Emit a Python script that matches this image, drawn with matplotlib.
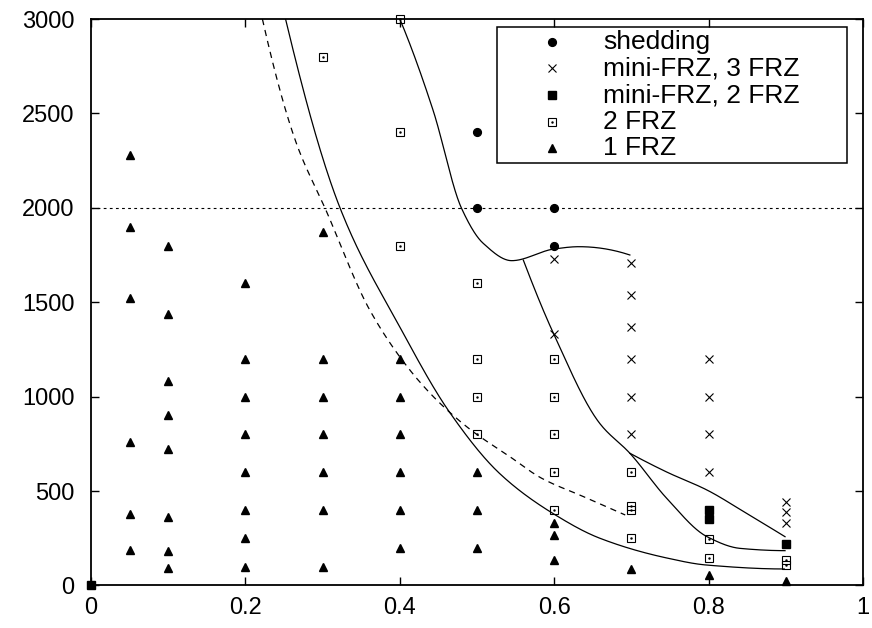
import matplotlib
matplotlib.use("Agg")
import matplotlib.pyplot as plt
from matplotlib.patches import Rectangle
import numpy as np

plt.rcParams['font.family'] = ['Liberation Sans', 'DejaVu Sans']

# ---------------- data ----------------
shed_x = [0.5, 0.5, 0.6, 0.6]
shed_y = [2400, 2000, 2000, 1800]

mini3_x = [0.6, 0.6, 0.7, 0.7, 0.7, 0.7, 0.7, 0.7, 0.8, 0.8, 0.8, 0.8, 0.9, 0.9, 0.9]
mini3_y = [1730, 1330, 1710, 1540, 1370, 1200, 1000, 800, 1200, 1000, 800, 600, 440, 390, 330]

mini2_x = [0.0, 0.8, 0.8, 0.9]
mini2_y = [0, 400, 350, 220]

frz2_x = [0.3, 0.4, 0.4, 0.4, 0.5, 0.5, 0.5, 0.5, 0.6, 0.6, 0.6, 0.6, 0.6,
          0.7, 0.7, 0.7, 0.7, 0.8, 0.8, 0.9, 0.9]
frz2_y = [2800, 3000, 2400, 1800, 1600, 1200, 1000, 800, 1200, 1000, 800, 600, 400,
          600, 420, 400, 250, 245, 145, 135, 110]

frz1_x = ([0.05] * 6 + [0.1] * 8 + [0.2] * 8 + [0.3] * 7 + [0.4] * 6 + [0.5] * 3
          + [0.6] * 3 + [0.7, 0.8, 0.9])
frz1_y = ([2280, 1900, 1520, 760, 380, 190]
          + [1800, 1440, 1080, 900, 720, 360, 180, 90]
          + [1600, 1200, 1000, 800, 600, 400, 250, 100]
          + [1870, 1200, 1000, 800, 600, 400, 100]
          + [1200, 1000, 800, 600, 400, 200]
          + [600, 400, 200]
          + [333, 267, 133]
          + [85, 55, 23])

# boundary curves
curveA_x = [0.252, 0.3225, 0.40, 0.465, 0.53, 0.598, 0.659, 0.746, 0.797, 0.898]
curveA_y = [3000, 2000, 1369, 914, 590, 382, 250, 145, 108, 87]

curveB_x = [0.400, 0.443, 0.480, 0.508, 0.545, 0.60, 0.632, 0.698]
curveB_y = [3000, 2518, 1997, 1812, 1720, 1782, 1794, 1750]

curveC_x = [0.560, 0.599, 0.659, 0.698, 0.746, 0.798, 0.841, 0.899]
curveC_y = [1723, 1335, 858, 700, 460, 258, 196, 184]

curveD_x = [0.698, 0.746, 0.798, 0.849, 0.899]
curveD_y = [700, 600, 505, 382, 258]

curveE_x = [0.222, 0.266, 0.303, 0.361, 0.413, 0.452, 0.495, 0.538,
            0.584, 0.638, 0.692]
curveE_y = [3000, 2342, 2000, 1459, 1141, 965, 814, 695,
            567, 470, 373]

ref_level = 2000

xticks = [0, 0.2, 0.4, 0.6, 0.8, 1]
xticklabels = ['0', '0.2', '0.4', '0.6', '0.8', '1']
yticks = [0, 500, 1000, 1500, 2000, 2500, 3000]
yticklabels = ['0', '500', '1000', '1500', '2000', '2500', '3000']

legend_labels = ['shedding', 'mini-FRZ, 3 FRZ', 'mini-FRZ, 2 FRZ', '2 FRZ', '1 FRZ']


def smooth_through(xs, ys, n=400):
    """Shape-preserving (PCHIP) smooth line through the given knots."""
    x = np.asarray(xs, float)
    y = np.asarray(ys, float)
    h = np.diff(x)
    d = np.diff(y) / h
    m = np.zeros_like(y)
    for k in range(1, len(x) - 1):
        if d[k - 1] * d[k] > 0:
            w1 = 2 * h[k] + h[k - 1]
            w2 = h[k] + 2 * h[k - 1]
            m[k] = (w1 + w2) / (w1 / d[k - 1] + w2 / d[k])
    # end slopes (three-point, shape-limited)
    def end(h0, h1, d0, d1):
        s = ((2 * h0 + h1) * d0 - h0 * d1) / (h0 + h1)
        if np.sign(s) != np.sign(d0):
            s = 0.0
        elif np.sign(d0) != np.sign(d1) and abs(s) > abs(3 * d0):
            s = 3 * d0
        return s
    if len(x) > 2:
        m[0] = end(h[0], h[1], d[0], d[1])
        m[-1] = end(h[-1], h[-2], d[-1], d[-2])
    else:
        m[:] = d[0]
    xx = np.linspace(x[0], x[-1], n)
    k = np.clip(np.searchsorted(x, xx) - 1, 0, len(x) - 2)
    t = (xx - x[k]) / h[k]
    h00 = 2 * t ** 3 - 3 * t ** 2 + 1
    h10 = t ** 3 - 2 * t ** 2 + t
    h01 = -2 * t ** 3 + 3 * t ** 2
    h11 = t ** 3 - t ** 2
    yy = h00 * y[k] + h10 * h[k] * m[k] + h01 * y[k + 1] + h11 * h[k] * m[k + 1]
    return xx, yy


# ---------------- figure ----------------
W, H = 872, 628
fig = plt.figure(figsize=(W / 100, H / 100), dpi=100)
L, R, T, B = 91, 863, 19, 585.4
ax = fig.add_axes([L / W, 1 - B / H, (R - L) / W, (B - T) / H])
ax.set_xlim(0, 1)
ax.set_ylim(0, 3000)

FS_tick = 17
FS_key = 19

ax.axhline(ref_level, color='black', lw=0.8, ls=(0, (2.5, 3)))

lw_c = 0.9
for cx, cy in [(curveA_x, curveA_y), (curveB_x, curveB_y),
               (curveC_x, curveC_y), (curveD_x, curveD_y)]:
    ax.plot(*smooth_through(cx, cy), color='black', lw=lw_c)
ax.plot(*smooth_through(curveE_x, curveE_y), color='black', lw=lw_c, ls=(0, (5, 4)))

ms = 5.6
sty_shed = dict(marker='o', ms=ms, mfc='black', mec='black', ls='none')
sty_m3 = dict(marker='x', ms=ms, mec='black', mew=0.8, ls='none')
sty_m2 = dict(marker='s', ms=ms, mfc='black', mec='black', ls='none')
sty_f2 = dict(marker='s', ms=ms, mfc='none', mec='black', mew=0.8, ls='none')
sty_f2d = dict(marker='.', ms=1.5, mfc='black', mec='black', ls='none')
sty_f1 = dict(marker='^', ms=ms, mfc='black', mec='black', ls='none')

ax.plot(frz1_x, frz1_y, clip_on=False, zorder=3, **sty_f1)
ax.plot(frz2_x, frz2_y, clip_on=False, zorder=3, **sty_f2)
ax.plot(frz2_x, frz2_y, clip_on=False, zorder=3, **sty_f2d)
ax.plot(mini2_x, mini2_y, clip_on=False, zorder=4, **sty_m2)
ax.plot(mini3_x, mini3_y, clip_on=False, zorder=3, **sty_m3)
ax.plot(shed_x, shed_y, clip_on=False, zorder=3, **sty_shed)

ax.set_xticks(xticks)
ax.set_xticklabels(xticklabels)
ax.set_yticks(yticks)
ax.set_yticklabels(yticklabels)
ax.tick_params(direction='in', length=6, width=1, top=True, right=True,
               labelsize=FS_tick, pad=8, colors='black')
ax.tick_params(axis='y', pad=12)
for s in ax.spines.values():
    s.set_linewidth(1.3)

# ---------------- key (gnuplot style) ----------------
def fx(px):
    return px / W


def fy(py):
    return 1 - py / H


bx0, bx1, by0, by1 = 497.3, 846.7, 27.3, 162.7
fig.patches.append(Rectangle((fx(bx0), fy(by1)), fx(bx1) - fx(bx0), fy(by0) - fy(by1),
                             transform=fig.transFigure, fill=False, ec='black',
                             lw=1.1, zorder=10))
styles = [[sty_shed], [sty_m3], [sty_m2], [sty_f2, sty_f2d], [sty_f1]]
row0, drow = 41.7, 26.65
for i, (lab, sts) in enumerate(zip(legend_labels, styles)):
    yy = fy(row0 + i * drow)
    for st in sts:
        fig.add_artist(plt.Line2D([fx(551.7)], [yy], transform=fig.transFigure, **st))
    fig.text(fx(603.3), yy, lab, fontsize=FS_key, va='center', ha='left')

fig.savefig('out.png', dpi=100)
